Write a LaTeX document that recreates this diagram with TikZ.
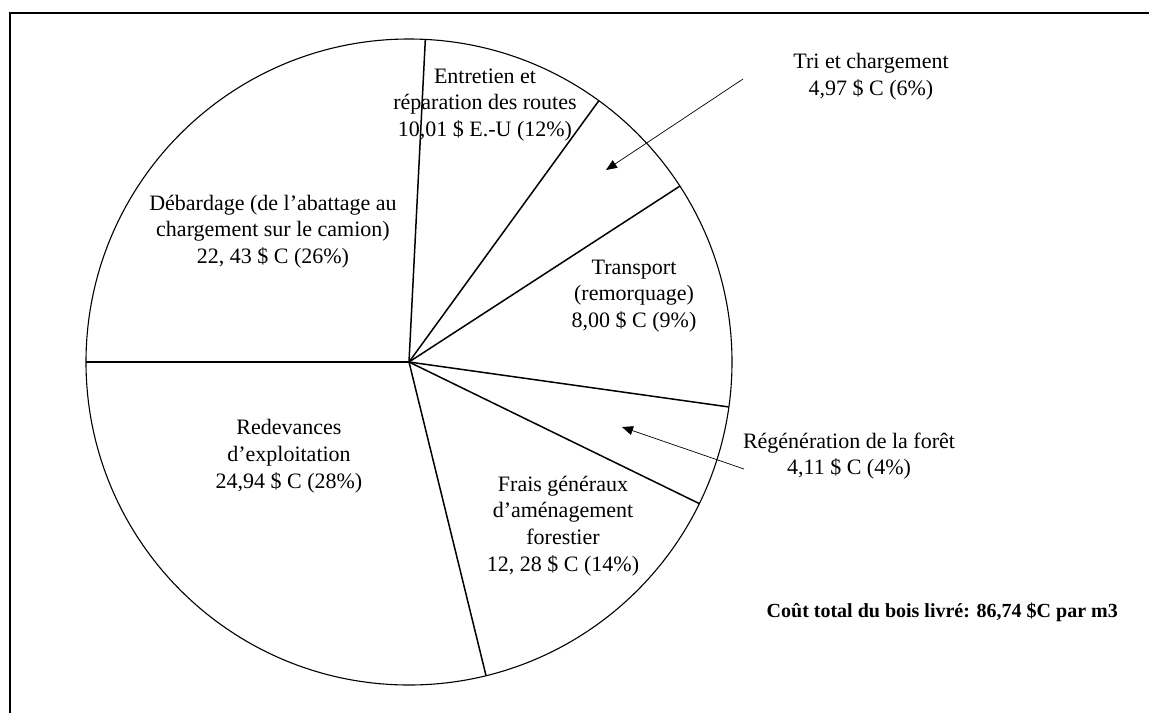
\documentclass[tikz,border=0pt]{standalone}
\usepackage{fontspec}
\setmainfont{Liberation Serif}
\usetikzlibrary{arrows.meta}
\begin{document}
\begin{tikzpicture}[x=1pt,y=-1pt,
  lbl/.style={align=center,font=\fontsize{22}{26.8}\selectfont,inner sep=0pt},
  spoke/.style={line width=1.5pt},
  rim/.style={line width=1.1pt},
  frame/.style={line width=1.6pt},
  callout/.style={line width=0.7pt,-{Triangle[length=11pt,width=9pt]}}]
\useasboundingbox (0,0) rectangle (1149,713);
\draw[frame] (10,713) -- (10,13) -- (1149,13);
\coordinate (c) at (409,362);
\draw[rim] (c) circle[radius=323];
\foreach \a in {180,87.1,54,33,-8,-26,-76.2}
  \draw[spoke] (c) -- ++(-\a:323);
% labels
\node[lbl] (deb) at (273,231.5) {Débardage (de l’abattage au\\chargement sur le camion)\\22, 43 \$ C (26\%)};
\node[lbl] (ent) at (485,105) {Entretien et\\réparation des routes\\10,01 \$ E.-U (12\%)};
\node[lbl] (tri) at (871,76.5) {Tri et chargement\\4,97 \$ C (6\%)};
\node[lbl] (tra) at (634,296) {Transport\\(remorquage)\\8,00 \$ C (9\%)};
\node[lbl] (reg) at (849,456) {Régénération de la forêt\\4,11 \$ C (4\%)};
\node[lbl] (red) at (289,456) {Redevances\\d’exploitation\\24,94 \$ C (28\%)};
\node[lbl] (fra) at (563,526) {Frais généraux\\d’aménagement\\forestier\\12, 28 \$ C (14\%)};
\node[lbl,font=\fontsize{20}{24}\selectfont\bfseries,anchor=east] (tot) at (1118,612) {Coût total du bois livré: 86,74 \$C par m3};
% callouts
\coordinate (tritail) at (743,79);
\coordinate (tritip) at (606,170);
\coordinate (regtail) at (744,469);
\coordinate (regtip) at (622,427);
\draw[callout] (tritail) -- (tritip);
\draw[callout] (regtail) -- (regtip);
\end{tikzpicture}
\end{document}
